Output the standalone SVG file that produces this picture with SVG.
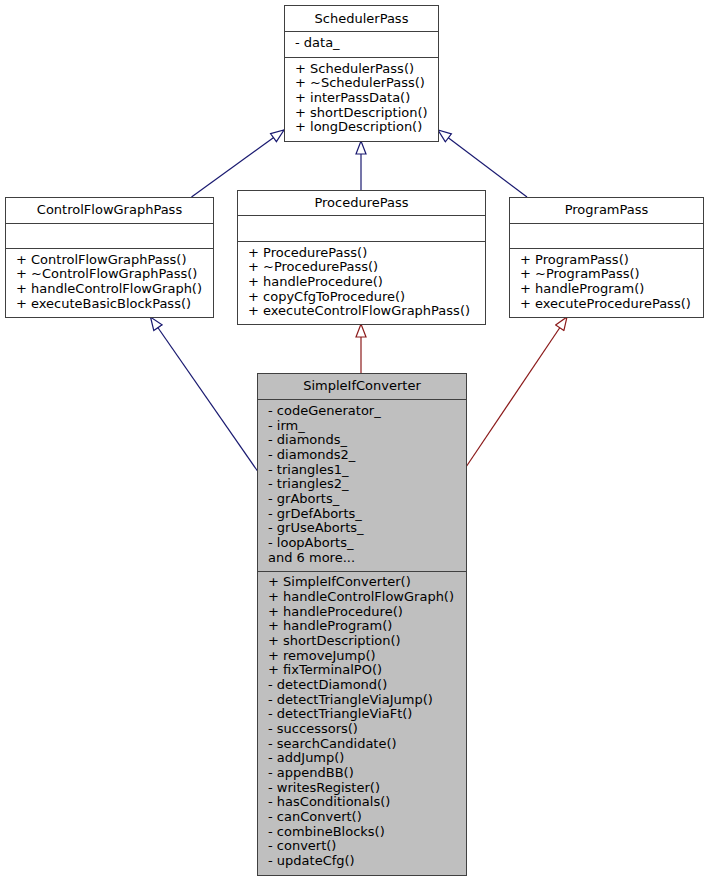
<svg xmlns="http://www.w3.org/2000/svg" width="709" height="881" viewBox="0 0 709 881">
<style>
text{font-family:"DejaVu Sans",sans-serif;font-size:13px;fill:#000}
.t{text-anchor:middle}
.box{fill:#fff;stroke:#404040;stroke-width:1}
.cur{fill:#bfbfbf;stroke:#404040;stroke-width:1}
.sep{stroke:#404040;stroke-width:1}
.blue{stroke:#191970;stroke-width:1.2;fill:none;marker-end:url(#ab)}
.red{stroke:#8b1a1a;stroke-width:1.2;fill:none;marker-end:url(#ar)}
</style>
<defs>
<marker id="ab" viewBox="-1 -1 15 12" refX="13" refY="5" markerWidth="15" markerHeight="12" markerUnits="userSpaceOnUse" orient="auto">
<path d="M0,0 L13,5 L0,10 z" fill="#fff" stroke="#191970" stroke-width="1.2"/>
</marker>
<marker id="ar" viewBox="-1 -1 15 12" refX="13" refY="5" markerWidth="15" markerHeight="12" markerUnits="userSpaceOnUse" orient="auto">
<path d="M0,0 L13,5 L0,10 z" fill="#fff" stroke="#8b1a1a" stroke-width="1.2"/>
</marker>
</defs>
<rect width="709" height="881" fill="#fff"/>
<g id="connectors">
<path class="blue" d="M191.5,197 L284,130"/>
<path class="blue" d="M361,190 L361,141"/>
<path class="blue" d="M527,197 L438,130"/>
<path class="blue" d="M257.5,471 L150.5,317"/>
<path class="red" d="M361,373 L361,324"/>
<path class="red" d="M466,467 L567,317"/>
</g>
<g id="SchedulerPass">
<rect class="box" x="284.5" y="5.5" width="154" height="136"/>
<line class="sep" x1="284.5" y1="31.5" x2="438.5" y2="31.5"/>
<line class="sep" x1="284.5" y1="57.5" x2="438.5" y2="57.5"/>
<text class="t" x="361.5" y="22.5">SchedulerPass</text>
<text x="295" y="47">- data_</text>
<text x="295" y="72.7">+ SchedulerPass()</text>
<text x="295" y="87.4">+ ~SchedulerPass()</text>
<text x="295" y="102">+ interPassData()</text>
<text x="295" y="116.7">+ shortDescription()</text>
<text x="295" y="131.4">+ longDescription()</text>
</g>
<g id="ControlFlowGraphPass">
<rect class="box" x="5.5" y="197.5" width="208" height="120"/>
<line class="sep" x1="5.5" y1="223.5" x2="213.5" y2="223.5"/>
<line class="sep" x1="5.5" y1="248.5" x2="213.5" y2="248.5"/>
<text class="t" x="109.5" y="214">ControlFlowGraphPass</text>
<text x="16" y="263.7">+ ControlFlowGraphPass()</text>
<text x="16" y="278.4">+ ~ControlFlowGraphPass()</text>
<text x="16" y="293">+ handleControlFlowGraph()</text>
<text x="16" y="307.7">+ executeBasicBlockPass()</text>
</g>
<g id="ProcedurePass">
<rect class="box" x="237.5" y="190.5" width="248" height="134"/>
<line class="sep" x1="237.5" y1="215.5" x2="485.5" y2="215.5"/>
<line class="sep" x1="237.5" y1="241.5" x2="485.5" y2="241.5"/>
<text class="t" x="361.5" y="207">ProcedurePass</text>
<text x="248" y="256.7">+ ProcedurePass()</text>
<text x="248" y="271.4">+ ~ProcedurePass()</text>
<text x="248" y="286">+ handleProcedure()</text>
<text x="248" y="300.7">+ copyCfgToProcedure()</text>
<text x="248" y="315.4">+ executeControlFlowGraphPass()</text>
</g>
<g id="ProgramPass">
<rect class="box" x="509.5" y="197.5" width="194" height="120"/>
<line class="sep" x1="509.5" y1="223.5" x2="703.5" y2="223.5"/>
<line class="sep" x1="509.5" y1="248.5" x2="703.5" y2="248.5"/>
<text class="t" x="606.5" y="214">ProgramPass</text>
<text x="520" y="263.7">+ ProgramPass()</text>
<text x="520" y="278.4">+ ~ProgramPass()</text>
<text x="520" y="293">+ handleProgram()</text>
<text x="520" y="307.7">+ executeProcedurePass()</text>
</g>
<g id="SimpleIfConverter">
<rect class="cur" x="257.5" y="373.5" width="209" height="502"/>
<line class="sep" x1="257.5" y1="399.5" x2="466.5" y2="399.5"/>
<line class="sep" x1="257.5" y1="571.5" x2="466.5" y2="571.5"/>
<text class="t" x="362" y="389.5">SimpleIfConverter</text>
<text x="268" y="415">- codeGenerator_</text>
<text x="268" y="429.7">- irm_</text>
<text x="268" y="444.3">- diamonds_</text>
<text x="268" y="459">- diamonds2_</text>
<text x="268" y="473.7">- triangles1_</text>
<text x="268" y="488.4">- triangles2_</text>
<text x="268" y="503">- grAborts_</text>
<text x="268" y="517.7">- grDefAborts_</text>
<text x="268" y="532.4">- grUseAborts_</text>
<text x="268" y="547">- loopAborts_</text>
<text x="268" y="561.7">and 6 more...</text>
<text x="268" y="586.3">+ SimpleIfConverter()</text>
<text x="268" y="601">+ handleControlFlowGraph()</text>
<text x="268" y="615.6">+ handleProcedure()</text>
<text x="268" y="630.3">+ handleProgram()</text>
<text x="268" y="645">+ shortDescription()</text>
<text x="268" y="659.7">+ removeJump()</text>
<text x="268" y="674.4">+ fixTerminalPO()</text>
<text x="268" y="689">- detectDiamond()</text>
<text x="268" y="703.7">- detectTriangleViaJump()</text>
<text x="268" y="718.4">- detectTriangleViaFt()</text>
<text x="268" y="733">- successors()</text>
<text x="268" y="747.7">- searchCandidate()</text>
<text x="268" y="762.4">- addJump()</text>
<text x="268" y="777">- appendBB()</text>
<text x="268" y="791.7">- writesRegister()</text>
<text x="268" y="806.4">- hasConditionals()</text>
<text x="268" y="821">- canConvert()</text>
<text x="268" y="835.7">- combineBlocks()</text>
<text x="268" y="850.4">- convert()</text>
<text x="268" y="865">- updateCfg()</text>
</g>
</svg>
